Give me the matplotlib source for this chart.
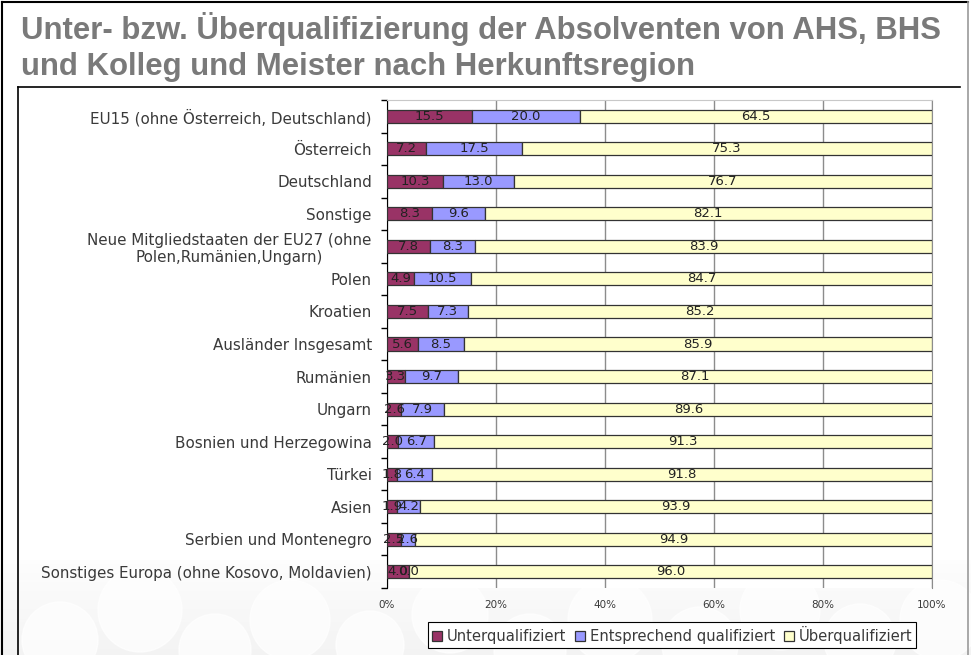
import numpy as np
import matplotlib.pyplot as plt
from matplotlib.patches import Circle
from matplotlib.lines import Line2D

# Data (percent), top to bottom as in the chart
regions = [
    "EU15 (ohne Österreich, Deutschland)",
    "Österreich",
    "Deutschland",
    "Sonstige",
    "Neue Mitgliedstaaten der EU27 (ohne\nPolen,Rumänien,Ungarn)",
    "Polen",
    "Kroatien",
    "Ausländer Insgesamt",
    "Rumänien",
    "Ungarn",
    "Bosnien und Herzegowina",
    "Türkei",
    "Asien",
    "Serbien und Montenegro",
    "Sonstiges Europa (ohne Kosovo, Moldavien)",
]
unter = [15.5, 7.2, 10.3, 8.3, 7.8, 4.9, 7.5, 5.6, 3.3, 2.6, 2.0, 1.8, 1.9, 2.5, 4.0]
entsprechend = [20.0, 17.5, 13.0, 9.6, 8.3, 10.5, 7.3, 8.5, 9.7, 7.9, 6.7, 6.4, 4.2, 2.6, 0.0]
ueber = [64.5, 75.3, 76.7, 82.1, 83.9, 84.7, 85.2, 85.9, 87.1, 89.6, 91.3, 91.8, 93.9, 94.9, 96.0]

series = [
    ("Unterqualifiziert", unter, "#993366"),
    ("Entsprechend qualifiziert", entsprechend, "#9999FF"),
    ("Überqualifiziert", ueber, "#FFFFCC"),
]
xticks = [0, 20, 40, 60, 80, 100]

text_col = "#3a3a3a"
fig = plt.figure(figsize=(9.71, 6.55), dpi=100)

# background: faint grey band with white circles at the bottom (slide decoration)
bg = fig.add_axes([0, 0, 1, 1], zorder=-5)
bg.set_xlim(0, 971)
bg.set_ylim(655, 0)
bg.axis("off")
grad = np.linspace(0, 1, 100)[:, None]
bg.imshow(grad, extent=(0, 971, 655, 560), cmap="Greys", vmin=-0.2, vmax=12,
          aspect="auto", zorder=0)
for cx, cy, r in [(60, 640, 38), (140, 610, 42), (215, 650, 36), (290, 620, 40),
                  (370, 645, 34), (450, 615, 38), (530, 650, 36), (610, 620, 42),
                  (700, 645, 38), (780, 610, 40), (860, 640, 36), (940, 620, 40)]:
    bg.add_patch(Circle((cx, cy), r, color="white", alpha=0.7, zorder=1))

# slide frame and chart frame
fig.add_artist(Line2D([0.002, 0.002], [0, 0.997], color="black", lw=1.5))
fig.add_artist(Line2D([0.002, 0.997], [0.997, 0.997], color="black", lw=1.5))
fig.add_artist(Line2D([0.997, 0.997], [0, 0.997], color="#9a9a9a", lw=1.2))
fig.add_artist(Line2D([0.0185, 0.0185], [0, 0.867], color="black", lw=1.2))
fig.add_artist(Line2D([0.0185, 0.989], [0.867, 0.867], color="black", lw=1.2))

fig.text(0.022, 0.955, "Unter- bzw. Überqualifizierung der Absolventen von AHS, BHS",
         family="Liberation Sans", weight="bold", fontsize=22.4, color="#7a7a7a",
         va="center", ha="left")
fig.text(0.022, 0.897, "und Kolleg und Meister nach Herkunftsregion",
         family="Liberation Sans", weight="bold", fontsize=22.4, color="#7a7a7a",
         va="center", ha="left")

ax = fig.add_axes([0.3986, 0.1023, 0.5612, 0.745])
y = np.arange(len(regions))
left = np.zeros(len(regions))
for name, vals, col in series:
    vals = np.array(vals)
    ax.barh(y, vals, left=left, height=0.4, color=col, edgecolor="#333333",
            linewidth=0.9, label=name, zorder=3)
    for yi, (l, v) in enumerate(zip(left, vals)):
        ax.text(l + v / 2, yi, f"{v:.1f}", ha="center", va="center",
                fontsize=9.5, color="#222222", zorder=4)
    left += vals

ax.set_xlim(0, 100)
ax.set_ylim(len(regions) - 0.5, -0.5)
ax.set_xticks(xticks)
ax.set_xticklabels([f"{t}%" for t in xticks], fontsize=7.5, color=text_col)
ax.tick_params(axis="x", length=0, pad=9)
ax.set_yticks(y)
ax.set_yticklabels(regions, fontsize=10.9, color=text_col, multialignment="center")
ax.tick_params(axis="y", which="major", length=0, pad=11)
ax.set_yticks(np.arange(-0.5, len(regions)), minor=True)
ax.tick_params(axis="y", which="minor", length=4, width=1, color="black", direction="out")
ax.grid(axis="x", color="#8c8c8c", lw=1, zorder=0)
ax.set_axisbelow(True)
ax.spines["bottom"].set_visible(False)
ax.spines["top"].set_color("#c8c8c8")
ax.spines["right"].set_color("#8c8c8c")
ax.spines["left"].set_color("black")
ax.patch.set_color("white")

leg = fig.legend(loc="center", bbox_to_anchor=(0.692, 0.0305), ncol=3, frameon=True,
                 fontsize=10.6, handlelength=0.7, handleheight=0.7, handletextpad=0.3,
                 columnspacing=0.6, borderpad=0.25, fancybox=False, edgecolor="black",
                 framealpha=1)
leg.get_frame().set_linewidth(0.8)
for t in leg.get_texts():
    t.set_color(text_col)

fig.savefig("out.png", dpi=100)
